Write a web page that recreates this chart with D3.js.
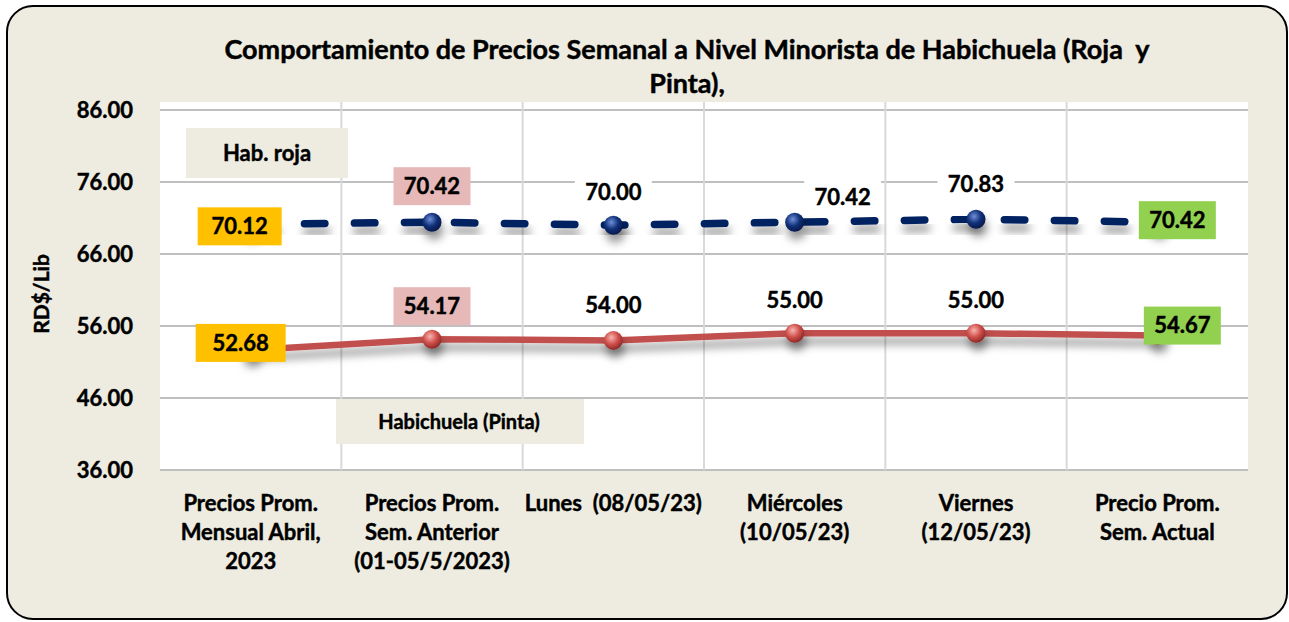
<!DOCTYPE html>
<html><head><meta charset="utf-8">
<script src="https://cdn.jsdelivr.net/npm/d3@7"></script>
<style>
html,body{margin:0;padding:0;background:#fff;}
text{font-family:Lato,"Open Sans",sans-serif;font-weight:bold;fill:#000;stroke:#000;stroke-width:0.45px;white-space:pre;}
</style></head>
<body><svg id="c" width="1289" height="622"></svg>
<script>
const categories = [
  ["Precios Prom.","Mensual Abril,","2023"],
  ["Precios Prom.","Sem. Anterior","(01-05/5/2023)"],
  ["Lunes  (08/05/23)"],
  ["Miércoles","(10/05/23)"],
  ["Viernes","(12/05/23)"],
  ["Precio Prom.","Sem. Actual"]
];
const rojaValues  = [70.12, 70.42, 70.00, 70.42, 70.83, 70.42];
const pintaValues = [52.68, 54.17, 54.00, 55.00, 55.00, 54.67];
const yTicks = [36, 46, 56, 66, 76, 86];
const titleLines = ["Comportamiento de Precios Semanal a Nivel Minorista de Habichuela (Roja  y","Pinta),"];
const yAxisTitle = "RD$/Lib";
const seriesNames = ["Hab. roja","Habichuela (Pinta)"];

// label styling (offsets from point, box fill)
const rojaLabelStyle = [
  {dx:-11,dy:2,fill:"#ffc000",w:84},{dx:0,dy:-36,fill:"#e6b9b8",w:77},{dx:0,dy:-33,fill:"#fff",w:77},
  {dx:48,dy:-25,fill:"#fff",w:77},{dx:0,dy:-35,fill:"#fff",w:77},{dx:20,dy:-2,fill:"#92d050",w:77}];
const pintaLabelStyle = [
  {dx:-10,dy:-7,fill:"#ffc000",w:90},{dx:0,dy:-33,fill:"#e6b9b8",w:77},{dx:0,dy:-35,fill:null,w:77},
  {dx:0,dy:-33,fill:null,w:77},{dx:0,dy:-33,fill:null,w:77},{dx:25,dy:-10,fill:"#92d050",w:77}];

const svg = d3.select("#c");
const defs = svg.append("defs");
const sh = defs.append("filter").attr("id","shadow").attr("x","-5%").attr("y","-50%").attr("width","110%").attr("height","300%");
sh.append("feGaussianBlur").attr("in","SourceAlpha").attr("stdDeviation",4).attr("result","b");
sh.append("feOffset").attr("in","b").attr("dx",2).attr("dy",8).attr("result","o");
sh.append("feFlood").attr("flood-color","#000").attr("flood-opacity",0.4).attr("result","f");
sh.append("feComposite").attr("in","f").attr("in2","o").attr("operator","in").attr("result","s");
const m = sh.append("feMerge"); m.append("feMergeNode").attr("in","s"); m.append("feMergeNode").attr("in","SourceGraphic");

function grad(id, c0, c1, c2){
  const g = defs.append("radialGradient").attr("id",id).attr("cx","40%").attr("cy","35%").attr("r","65%");
  g.append("stop").attr("offset","0%").attr("stop-color",c0);
  g.append("stop").attr("offset","55%").attr("stop-color",c1);
  g.append("stop").attr("offset","100%").attr("stop-color",c2);
}
grad("gBlue","#6f8fd8","#12327a","#06184a");
grad("gRed","#f8b4b0","#d0504c","#8e2a27");

// background frame
svg.append("rect").attr("x",7).attr("y",6).attr("width",1280).attr("height",613).attr("rx",26)
  .attr("fill","#eeece1").attr("stroke","#000").attr("stroke-width",2);

const L=160,R=1248,T=102;
const x = d3.scaleBand().domain(d3.range(categories.length)).range([L,R]);
const y = d3.scaleLinear().domain([36,86]).range([470,110]);

svg.append("rect").attr("x",L).attr("y",T).attr("width",R-L).attr("height",470-T).attr("fill","#fff");

// gridlines
svg.append("g").selectAll("line").data(yTicks).join("line")
  .attr("x1",L).attr("x2",R).attr("y1",d=>y(d)).attr("y2",d=>y(d))
  .attr("stroke","#bfbfbf").attr("stroke-width",2);
svg.append("g").selectAll("line").data(d3.range(1,categories.length)).join("line")
  .attr("x1",d=>x(d)).attr("x2",d=>x(d)).attr("y1",T).attr("y2",470)
  .attr("stroke","#d9d9d9").attr("stroke-width",2);

// y axis labels
const yAxis = d3.axisLeft(y).tickValues(yTicks).tickFormat(d3.format(".2f")).tickSize(0).tickPadding(0);
const ya = svg.append("g").attr("transform","translate(133,0)").call(yAxis);
ya.select(".domain").remove();
ya.selectAll("text").style("font-family","Lato").style("font-weight","bold").attr("font-size",22).attr("fill","#000").attr("dy","0.35em");

// y title
svg.append("text").attr("transform","translate(49,294) rotate(-90)").attr("text-anchor","middle")
  .attr("font-size",21).text(yAxisTitle);

// title
svg.append("g").selectAll("text").data(titleLines).join("text")
  .attr("x",687).attr("y",(d,i)=>59+i*34).attr("text-anchor","middle").attr("font-size",27).text(d=>d);

// x labels
const xl = svg.append("g").selectAll("text").data(categories).join("text")
  .attr("text-anchor","middle").attr("font-size",22);
xl.each(function(lines,i){
  d3.select(this).selectAll("tspan").data(lines).join("tspan")
    .attr("x",x(i)+x.bandwidth()/2).attr("y",(d,j)=>511+j*29).text(d=>d);
});

const cx = i => x(i)+x.bandwidth()/2;
const line = d3.line().x((d,i)=>cx(i)).y(d=>y(d));

// legend boxes
svg.append("rect").attr("x",186).attr("y",128).attr("width",162).attr("height",50).attr("fill","#eeece1");
svg.append("text").attr("x",267).attr("y",161).attr("text-anchor","middle").attr("font-size",22).text(seriesNames[0]);
svg.append("rect").attr("x",336).attr("y",399).attr("width",248).attr("height",45).attr("fill","#eeece1");
svg.append("text").attr("x",459).attr("y",429).attr("text-anchor","middle").attr("font-size",20).text(seriesNames[1]);

// lines
const gR = svg.append("g").attr("filter","url(#shadow)");
gR.append("path").datum(pintaValues).attr("d",line).attr("fill","none")
  .attr("stroke","#c0504d").attr("stroke-width",6.5).attr("stroke-linejoin","round");
const gB = svg.append("g").attr("filter","url(#shadow)");
gB.append("path").datum(rojaValues).attr("d",line).attr("fill","none")
  .attr("stroke","#002060").attr("stroke-width",7.5).attr("stroke-dasharray","20.5,29.5").attr("stroke-dashoffset",-3.75)
  .attr("stroke-linecap","round");

// markers
svg.append("g").attr("filter","url(#shadow)").selectAll("circle").data(pintaValues).join("circle")
  .attr("cx",(d,i)=>cx(i)).attr("cy",d=>y(d)).attr("r",9.5).attr("fill","url(#gRed)");
svg.append("g").attr("filter","url(#shadow)").selectAll("circle").data(rojaValues).join("circle")
  .attr("cx",(d,i)=>cx(i)).attr("cy",d=>y(d)).attr("r",9.5).attr("fill","url(#gBlue)");

// data labels
function labels(vals, style){
  const g = svg.append("g");
  vals.forEach((v,i)=>{
    const s = style[i];
    const lx = cx(i)+s.dx, ly = y(v)+s.dy;
    if(s.fill) g.append("rect").attr("x",lx-s.w/2).attr("y",ly-19).attr("width",s.w).attr("height",38).attr("fill",s.fill);
    g.append("text").attr("x",lx).attr("y",ly).attr("dy","0.36em").attr("text-anchor","middle")
      .attr("font-size",22).text(d3.format(".2f")(v));
  });
}
labels(rojaValues, rojaLabelStyle);
labels(pintaValues, pintaLabelStyle);
</script></body></html>
